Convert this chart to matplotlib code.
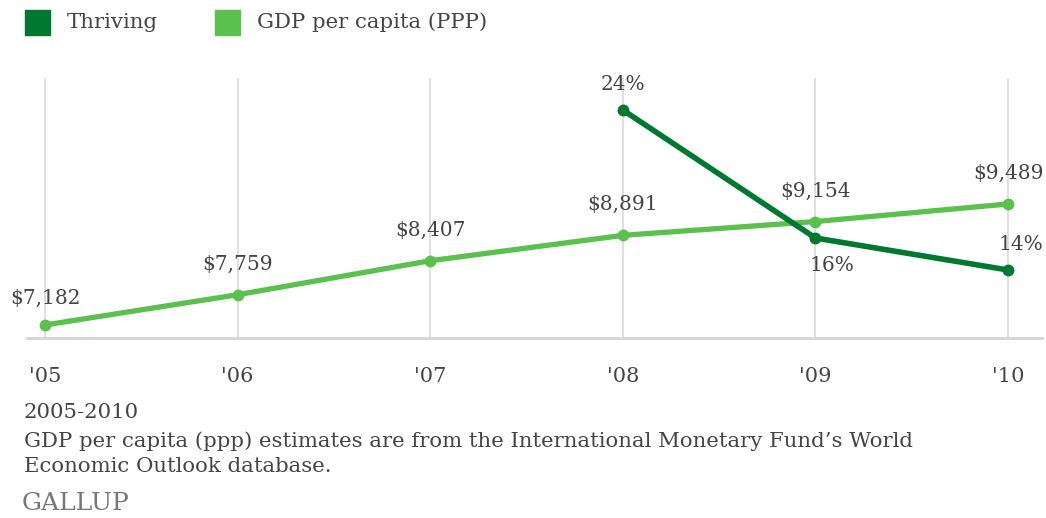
import numpy as np
import matplotlib.pyplot as plt
from matplotlib.patches import Rectangle

years = [2005, 2006, 2007, 2008, 2009, 2010]
year_labels = ["'05", "'06", "'07", "'08", "'09", "'10"]
gdp = [7182, 7759, 8407, 8891, 9154, 9489]
gdp_labels = ["$7,182", "$7,759", "$8,407", "$8,891", "$9,154", "$9,489"]
thriving_years = [2008, 2009, 2010]
thriving = [24, 16, 14]

dark_green = '#00782f'
light_green = '#5cc04e'
text_gray = '#444444'

plt.rcParams['font.family'] = ['DejaVu Serif']

fig = plt.figure(figsize=(10.46, 5.18), dpi=100)
W, H = 1046, 518

# main axes (pixel box: x 27..1042, y 78..338)
ax = fig.add_axes([27 / W, (H - 338) / H, (1042 - 27) / W, (338 - 78) / H])
ax.set_xlim(2004.9065, 2010.1765)
ax.set_ylim(6934, 11891)
ax2 = ax.twinx()
ax2.set_ylim(9.75, 26)

for a in (ax, ax2):
    for s in a.spines.values():
        s.set_visible(False)
    a.set_yticks([])
ax.spines['bottom'].set_visible(True)
ax.spines['bottom'].set_color('#d4d4d4')
ax.spines['bottom'].set_linewidth(2)

for y in years:
    ax.axvline(y, color='#d9d9d9', lw=1.2, zorder=0)

ax.set_xticks(years)
ax.set_xticklabels(year_labels, fontsize=15, color=text_gray)
ax.tick_params(axis='x', length=0, pad=21)

ax.plot(years, gdp, color=light_green, lw=3.8, marker='o', ms=7.5, zorder=3,
        solid_capstyle='round')
ax2.plot(thriving_years, thriving, color=dark_green, lw=4, marker='o', ms=7.5,
         zorder=4, solid_capstyle='round')

for i, (x, v, lab) in enumerate(zip(years, gdp, gdp_labels)):
    dy = 19 if i == 0 else 22
    ax.annotate(lab, (x, v), xytext=(0, dy), textcoords='offset points',
                ha='center', va='center', fontsize=14.5, color=text_gray)

th_offsets = [(0, 18), (12, -20), (9, 18)]
for x, v, off in zip(thriving_years, thriving, th_offsets):
    ax2.annotate(f'{v}%', (x, v), xytext=off, textcoords='offset points',
                 ha='center', va='center', fontsize=14.5, color=text_gray)

# legend
fig.patches.append(Rectangle((25 / W, 1 - 35 / H), 25 / W, 25 / H,
                             transform=fig.transFigure, color=dark_green))
fig.text(67 / W, 1 - 22 / H, 'Thriving', fontsize=15.3, color=text_gray, va='center')
fig.patches.append(Rectangle((215 / W, 1 - 35 / H), 25 / W, 25 / H,
                             transform=fig.transFigure, color=light_green))
fig.text(257 / W, 1 - 22 / H, 'GDP per capita (PPP)', fontsize=15.3,
         color=text_gray, va='center')

# footnote
fig.text(24 / W, 1 - 412 / H, '2005-2010', fontsize=15.3, color=text_gray, va='center')
fig.text(24 / W, 1 - 441 / H,
         'GDP per capita (ppp) estimates are from the International Monetary Fund\u2019s World',
         fontsize=15.3, color=text_gray, va='center')
fig.text(24 / W, 1 - 467 / H, 'Economic Outlook database.', fontsize=15.3,
         color=text_gray, va='center')
fig.text(22 / W, 1 - 504 / H, 'GALLUP', fontsize=18, color='#777777', va='center')

fig.savefig('out.png', dpi=100, facecolor='white')
